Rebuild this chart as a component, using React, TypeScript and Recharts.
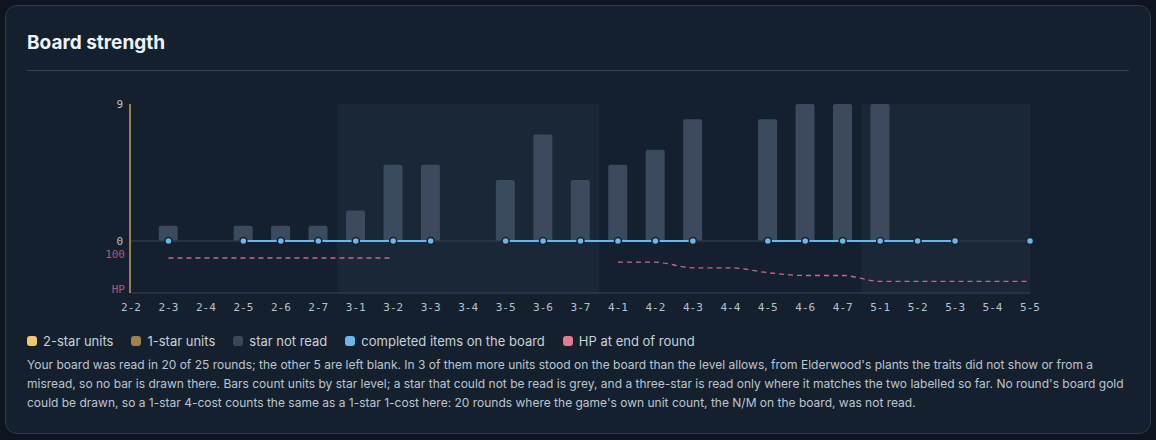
import React from 'react';
import {
  Bar,
  ComposedChart,
  Line,
  ReferenceArea,
  ReferenceLine,
  XAxis,
  YAxis,
} from 'recharts';

const rounds = [
  '2-2', '2-3', '2-4', '2-5', '2-6', '2-7',
  '3-1', '3-2', '3-3', '3-4', '3-5', '3-6', '3-7',
  '4-1', '4-2', '4-3', '4-4', '4-5', '4-6', '4-7',
  '5-1', '5-2', '5-3', '5-4', '5-5',
];
const twoStarUnits = [null, 0, null, 0, 0, 0, 0, 0, 0, null, 0, 0, 0, 0, 0, 0, null, 0, 0, 0, 0, null, null, null, null];
const oneStarUnits = [null, 0, null, 0, 0, 0, 0, 0, 0, null, 0, 0, 0, 0, 0, 0, null, 0, 0, 0, 0, null, null, null, null];
const starNotRead = [null, 1, null, 1, 1, 1, 2, 5, 5, null, 4, 7, 4, 5, 6, 8, null, 8, 9, 9, 9, null, null, null, null];
const completedItems = [null, 0, null, 0, 0, 0, 0, 0, 0, null, 0, 0, 0, 0, 0, 0, null, 0, 0, 0, 0, 0, 0, null, 0];
const hpEndOfRound = [null, 100, 100, 100, 100, 100, 100, 100, null, null, null, null, null, 88, 88, 72, 72, 58, 50, 50, 33, 33, 33, 33, 33];
const shadedStages = ['3', '5'];
const unitTicks = [0, 9];
const hpTicks = [0, 100];

const legendItems = [
  { name: '2-star units', color: '#f2c96a' },
  { name: '1-star units', color: '#9c8250' },
  { name: 'star not read', color: '#3c475a' },
  { name: 'completed items on the board', color: '#6db6ea' },
  { name: 'HP at end of round', color: '#e27a92' },
];

const footnote = [
  "Your board was read in 20 of 25 rounds; the other 5 are left blank. In 3 of them more units stood on the board than the level allows, from Elderwood's plants the traits did not show or from a",
  "misread, so no bar is drawn there. Bars count units by star level; a star that could not be read is grey, and a three-star is read only where it matches the two labelled so far. No round's board gold",
  "could be drawn, so a 1-star 4-cost counts the same as a 1-star 1-cost here: 20 rounds where the game's own unit count, the N/M on the board, was not read.",
];

const data = rounds.map((r, i) => ({
  i,
  round: r,
  two: twoStarUnits[i],
  one: oneStarUnits[i],
  unread: starNotRead[i],
  items: completedItems[i],
  hp: hpEndOfRound[i],
}));

const last = rounds.length - 1;
const stageBands = shadedStages.map((s) => {
  const idx = rounds.map((r, i) => (r.startsWith(s + '-') ? i : -1)).filter((i) => i >= 0);
  return { x1: Math.max(0, idx[0] - 0.5), x2: Math.min(last, idx[idx.length - 1] + 0.5) };
});

const mono = '"DejaVu Sans Mono", monospace';
const sans = 'Inter, "Noto Sans", sans-serif';

const UnitTick = ({ x, y, payload }: any) => (
  <text x={x - 1} y={y} dy="0.355em" textAnchor="end" fill="#b8c2cc" fontSize={11} fontFamily={mono}>
    {payload.value}
  </text>
);

const HpTick = ({ x, y, payload }: any) => (
  <text x={x - 1} y={y - 4} dy="0.355em" textAnchor="end" fill="#a85c7a" fontSize={11} fontFamily={mono}>
    {payload.value === 0 ? 'HP' : payload.value}
  </text>
);

function BoardChart() {
  return (
    <ComposedChart
      width={1102}
      height={240}
      data={data}
      margin={{ top: 24, right: 99, bottom: 0, left: 102 }}
    >
      {stageBands.map((b, k) => (
        <ReferenceArea key={k} yAxisId="u" x1={b.x1} x2={b.x2} fill="#1a2736" fillOpacity={1} stroke="none" />
      ))}
      <XAxis
        dataKey="i"
        type="number"
        domain={[0, last]}
        ticks={data.map((d) => d.i)}
        interval={0}
        tickFormatter={(v) => rounds[v]}
        height={27}
        tickSize={0}
        tickMargin={10}
        axisLine={{ stroke: '#33465a' }}
        tick={{ fill: '#b8c2cc', fontSize: 11, fontFamily: mono }}
      />
      <YAxis
        yAxisId="u"
        width={1}
        domain={[-3.42, 9]}
        ticks={unitTicks}
        tickSize={0}
        tickMargin={6}
        tickLine={false}
        axisLine={{ stroke: '#c4a25e', strokeWidth: 1.5 }}
        tick={<UnitTick />}
        allowDataOverflow
      />
      <YAxis
        yAxisId="hp"
        width={1}
        domain={[0, 540]}
        ticks={hpTicks}
        tickSize={0}
        tickMargin={5}
        tickLine={false}
        axisLine={false}
        tick={<HpTick />}
      />
      <ReferenceLine yAxisId="u" y={0} stroke="#2a3a4b" strokeWidth={1.5} />
      <Bar yAxisId="u" dataKey="two" stackId="s" fill="#f2c96a" barSize={19} isAnimationActive={false} />
      <Bar yAxisId="u" dataKey="one" stackId="s" fill="#9c8250" barSize={19} isAnimationActive={false} />
      <Bar yAxisId="u" dataKey="unread" stackId="s" fill="#3c4a5e" barSize={19} radius={[2, 2, 0, 0]} isAnimationActive={false} />
      <Line
        yAxisId="hp"
        dataKey="hp"
        type="monotone"
        stroke="#c86a86"
        strokeWidth={1.3}
        strokeDasharray="5 4"
        dot={false}
        isAnimationActive={false}
      />
      <Line
        yAxisId="u"
        dataKey="items"
        stroke="#6db6ea"
        strokeWidth={2}
        dot={{ r: 3.5, fill: '#6db6ea', stroke: '#14202e', strokeWidth: 1.5 }}
        isAnimationActive={false}
      />
    </ComposedChart>
  );
}

export default function App() {
  return (
    <div style={{ position: 'absolute', left: 0, top: 0, width: 1156, height: 440, background: '#0d1620', fontFamily: sans }}>
      <div
        style={{
          position: 'absolute',
          left: 5,
          top: 5,
          width: 1144,
          height: 427,
          background: '#14202e',
          border: '1px solid #2a3b4c',
          borderRadius: 12,
        }}
      />
      <div style={{ position: 'absolute', left: 27, top: 31, fontSize: 19, fontWeight: 700, color: '#eef2f5' }}>
        Board strength
      </div>
      <div style={{ position: 'absolute', left: 27, top: 70, width: 1102, height: 1, background: '#2e4255' }} />
      <div style={{ position: 'absolute', left: 27, top: 80 }}>
        <BoardChart />
      </div>
      <div style={{ position: 'absolute', left: 27, top: 332, display: 'flex', gap: 18, fontSize: 13, color: '#c9d1d9', lineHeight: '18px' }}>
        {legendItems.map((it) => (
          <div key={it.name} style={{ display: 'flex', alignItems: 'center', gap: 6 }}>
            <span style={{ width: 10, height: 10, borderRadius: 3, background: it.color, display: 'inline-block' }} />
            <span>{it.name}</span>
          </div>
        ))}
      </div>
      <div style={{ position: 'absolute', left: 27, top: 355, fontSize: 12, lineHeight: '19px', color: '#bcc5ce', whiteSpace: 'nowrap' }}>
        {footnote.map((l, k) => (
          <div key={k}>{l}</div>
        ))}
      </div>
    </div>
  );
}
